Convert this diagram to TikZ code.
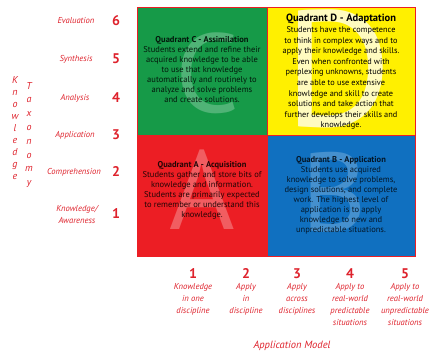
\documentclass[tikz,border=0pt]{standalone}
\usepackage{fontspec}
\setmainfont{PT Sans}
\usetikzlibrary{positioning}
\definecolor{qgreen}{RGB}{22,154,72}
\definecolor{qyellow}{RGB}{255,240,0}
\definecolor{qred}{RGB}{236,30,36}
\definecolor{qblue}{RGB}{16,112,192}
\definecolor{axred}{RGB}{222,34,44}
\tikzset{every picture/.style={line width=0.75pt}}
\tikzset{
  quad/.style={draw=qred, line width=1pt, anchor=north west, inner sep=0pt},
  bigletter/.style={inner sep=0pt, font=\fontsize{112}{112}\selectfont},
  quadtext/.style={align=center, inner sep=0pt, font=\fontsize{8.5}{10}\selectfont},
  axislabel/.style={text=axred, align=center, inner sep=0pt, font=\itshape\fontsize{8.6}{12}\selectfont},
  axisnum/.style={text=axred, inner sep=0pt, font=\bfseries\fontsize{14}{14}\selectfont},
}

\begin{document}
\begin{tikzpicture}[x=1pt, y=-1pt]
    \useasboundingbox (0,0) rectangle (433,352);
    % the four quadrants
    \node[quad, fill=qgreen, minimum width=130pt, minimum height=128pt] (quadC) at (137,7) {};
    \node[quad, fill=qyellow, minimum width=148pt, minimum height=128pt] (quadD) at (267,7) {};
    \node[quad, fill=qred, minimum width=130pt, minimum height=121pt] (quadA) at (137,135) {};
    \node[quad, fill=qblue, minimum width=148pt, minimum height=121pt] (quadB) at (267,135) {};
    % big letters behind the texts
    \node[bigletter, text=qgreen!75!white] (letC) at (207,73) {C};
    \node[bigletter, text=qyellow!25!white, font=\fontsize{165}{165}\selectfont] (letD) at (338,69) {D};
    \node[bigletter, text=qred!72!white] (letA) at (202,190) {A};
    \node[bigletter, text=qblue!78!white] (letB) at (334,192) {B};
    % quadrant texts
    \node[quadtext, text=black!85!qgreen] (txtC) at (202,70) {\textbf{Quadrant C - Assimilation}\\
        Students extend and refine their\\acquired knowledge to be able\\to use that knowledge\\
        automatically and routinely to\\analyze and solve problems\\and create solutions.};
    \node[quadtext, text=black, font=\fontsize{8.3}{10.6}\selectfont] (txtD) at (341,72)
        {{\fontsize{10.5}{12}\selectfont\textbf{Quadrant D - Adaptation}}\\
        Students have the competence\\to think in complex ways and to\\
        apply their knowledge and skills.\\Even when confronted with\\
        perplexing unknowns, students\\are able to use extensive\\
        knowledge and skill to create\\solutions and take action that\\
        further develops their skills and\\knowledge.};
    \node[quadtext, text=black!85!qred] (txtA) at (202,190) {\textbf{Quadrant A - Acquisition}\\
        Students gather and store bits of\\knowledge and information.\\
        Students are primarily expected\\to remember or understand this\\knowledge.};
    \node[quadtext, text=black!80!qblue] (txtB) at (341,195) {\textbf{Quadrant B - Application}\\
        Students use acquired\\knowledge to solve problems,\\design solutions, and complete\\
        work. The highest level of\\application is to apply\\knowledge to new and\\
        unpredictable situations.};
    % knowledge taxonomy (left axis)
    \node[axislabel, font=\itshape\fontsize{10}{12}\selectfont] (axK) at (15,128)
        {K\\n\\o\\w\\l\\e\\d\\g\\e};
    \node[axislabel, font=\itshape\fontsize{10}{13.8}\selectfont] (axT) at (29,135)
        {T\\a\\x\\o\\n\\o\\m\\y};
    \node[axislabel] (lev6) at (76,21) {Evaluation};
    \node[axislabel] (lev5) at (76,59) {Synthesis};
    \node[axislabel] (lev4) at (75,98) {Analysis};
    \node[axislabel] (lev3) at (75,135) {Application};
    \node[axislabel] (lev2) at (74,172) {Comprehension};
    \node[axislabel] (lev1) at (77,214) {Knowledge/\\Awareness};
    \node[axisnum] (num6) at (116,21) {6};
    \node[axisnum] (num5) at (116,59) {5};
    \node[axisnum] (num4) at (116,98) {4};
    \node[axisnum] (num3) at (116,135) {3};
    \node[axisnum] (num2) at (116,172) {2};
    \node[axisnum] (num1) at (116,214) {1};
    % application model (bottom axis)
    \node[axisnum] (app1) at (193,274) {1};
    \node[axisnum] (app2) at (246,274) {2};
    \node[axisnum] (app3) at (297,274) {3};
    \node[axisnum] (app4) at (350,274) {4};
    \node[axisnum] (app5) at (405,274) {5};
    \node[axislabel, anchor=north] (step1) at (193,283) {Knowledge\\in one\\discipline};
    \node[axislabel, anchor=north] (step2) at (246,283) {Apply\\in\\discipline};
    \node[axislabel, anchor=north] (step3) at (297,283) {Apply\\across\\disciplines};
    \node[axislabel, anchor=north] (step4) at (350,283) {Apply to\\real-world\\predictable\\situations};
    \node[axislabel, anchor=north] (step5) at (405,283) {Apply to\\real-world\\unpredictable\\situations};
    \node[axislabel, font=\itshape\fontsize{10.5}{12}\selectfont] (appmodel) at (292,346) {Application Model};
\end{tikzpicture}
\end{document}
